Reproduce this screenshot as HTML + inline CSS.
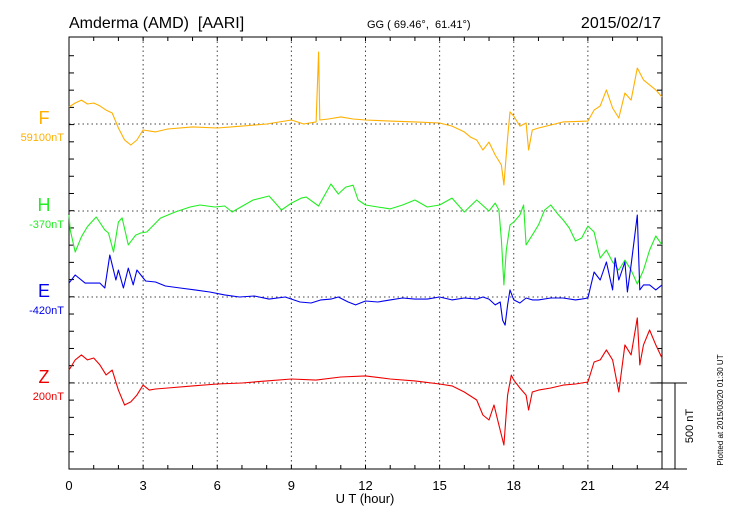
<!DOCTYPE html>
<html><head><meta charset="utf-8"><style>
html,body{margin:0;padding:0;background:#fff;}
svg{display:block;font-family:"Liberation Sans",sans-serif;}
text{white-space:pre;}
</style></head><body>
<svg id="chart" width="730" height="520" viewBox="0 0 730 520" xml:space="preserve">
<g id="axes"></g>
<g id="series"></g>
<text x="69" y="28" font-size="16">Amderma (AMD)  [AARI]</text>
<text x="367" y="28" font-size="11">GG ( 69.46°,  61.41°)</text>
<text x="661" y="28" font-size="16" text-anchor="end">2015/02/17</text>
<text x="365" y="503" font-size="13" text-anchor="middle">U T (hour)</text>
<text transform="translate(693,426) rotate(-90)" font-size="11" text-anchor="middle">500 nT</text>
<text transform="translate(723,410) rotate(-90)" font-size="8" text-anchor="middle">Plotted at 2015/03/20 01:30 UT</text>
</svg>
<script>
const xTicks=[0,3,6,9,12,15,18,21,24];
const seriesNames=["F","H","E","Z"];
const baseLabels=["59100nT","-370nT","-420nT","200nT"];
const fHours=[0,0.25,0.5,0.75,1,1.25,1.5,1.75,2,2.25,2.5,2.75,3,3.5,4,5,6,7,8,9,9.5,10,10.1,10.15,10.5,11,11.5,12,13,14,15,15.5,16,16.25,16.5,16.75,17,17.25,17.5,17.6,17.75,17.85,18,18.25,18.5,18.6,18.75,19,19.5,20,21,21.25,21.5,21.75,22,22.25,22.5,22.75,23,23.25,23.5,23.75,24];
const fValues=[99,122,139,116,122,105,81,64,-23,-93,-122,-93,-35,-46,-29,-17,-23,-12,0,23,0,12,418,23,29,41,29,23,17,12,6,-12,-46,-76,-93,-151,-105,-180,-238,-354,-81,70,46,-12,6,-151,-35,-23,-6,12,17,81,105,198,93,35,180,139,325,256,227,198,157];
const hHours=[0,0.05,0.25,0.5,0.75,1.1,1.45,1.6,1.8,2,2.15,2.4,2.7,2.9,3.15,3.7,4.3,4.9,5.3,5.9,6.3,6.6,7.45,8.1,8.6,9,9.4,9.6,10.1,10.6,10.9,11.2,11.5,11.7,12,12.5,13,13.5,14,14.5,15,15.5,16,16.5,17,17.25,17.4,17.5,17.6,17.7,17.85,18,18.25,18.4,18.5,18.75,19,19.25,19.5,19.75,20,20.25,20.5,20.75,21,21.25,21.5,21.75,22,22.25,22.5,22.75,23,23.25,23.5,23.75,24];
const hValues=[-23,-110,-238,-150,-90,-35,-110,-128,-238,-64,-40,-197,-140,-128,-122,-41,-6,23,35,23,29,-6,64,87,6,46,75,81,29,157,99,139,150,64,35,23,12,35,64,23,35,75,-6,64,0,46,6,-168,-430,-227,-81,-64,-23,35,-197,-140,-81,6,35,-12,-52,-99,-174,-157,-87,-122,-273,-227,-296,-343,-285,-343,-424,-343,-227,-145,-197];
const eHours=[0,0.25,0.65,1.25,1.45,1.65,1.9,2,2.2,2.4,2.6,2.75,3.1,3.5,3.9,4.5,5.1,5.7,6.3,6.9,7.5,8.1,8.75,9.35,9.8,10.2,10.6,10.9,11.3,11.6,12,12.5,13,13.5,14,14.5,15,15.5,16,16.5,16.75,17,17.25,17.45,17.55,17.65,17.75,17.85,18,18.25,18.5,18.75,19,19.5,20,20.5,20.75,21,21.25,21.5,21.75,22,22.1,22.25,22.5,22.6,22.75,23,23.1,23.25,23.5,23.75,24];
const eValues=[81,128,81,81,52,244,99,157,52,168,70,157,93,87,64,52,41,29,12,0,6,-12,0,-29,-35,-17,-12,0,-29,-46,-23,-29,-17,-6,-12,-12,0,-17,-6,-12,0,-12,-46,-29,-134,-163,-46,41,-17,-35,-6,-17,-17,-6,-6,-17,-12,-6,145,99,203,41,227,99,203,29,186,476,41,70,70,41,70];
const zHours=[0,0.25,0.5,0.75,1,1.25,1.5,1.75,2,2.25,2.5,2.75,3,3.25,3.5,4,5,6,7,8,9,10,11,12,13,14,15,15.5,16,16.5,16.75,17,17.2,17.4,17.6,17.75,17.9,18,18.25,18.5,18.6,18.75,19,19.5,20,20.5,21,21.25,21.5,21.75,22,22.25,22.5,22.75,23,23.1,23.25,23.5,23.75,24];
const zValues=[75,134,163,134,145,105,47,75,-41,-128,-110,-70,-12,-41,-35,-29,-17,-6,0,12,23,17,35,41,23,12,-6,-17,-52,-99,-186,-215,-128,-244,-360,-70,46,17,-29,-70,-157,-52,-41,-29,-12,-6,6,122,134,192,134,-52,221,163,378,105,221,308,221,145];

const NS="http://www.w3.org/2000/svg";
const L=69,R=662,T=37,B=469;
const PXNT=0.1722;
const bases=[124,211,297,383];
const colors=["#ffb000","#22ee22","#0000ee","#ee0000"];
const X=h=>L+(R-L)*h/24;
const Y=(i,v)=>bases[i]-v*PXNT;
const axes=document.getElementById('axes');
const ser=document.getElementById('series');
function mk(tag,attrs,parent){const e=document.createElementNS(NS,tag);for(const k in attrs)e.setAttribute(k,attrs[k]);parent.appendChild(e);return e;}

for(const h of xTicks){ if(h===0||h===24)continue;
  const g=mk('line',{x1:X(h),x2:X(h),y1:T,y2:B,stroke:'#444','stroke-width':1,'stroke-dasharray':'1.5,3'},axes);
  
  
}
bases.forEach((b,i)=>{
  const g=mk('line',{x1:L,x2:R,y1:b,y2:b,stroke:'#444','stroke-width':1,'stroke-dasharray':'1.5,3'},axes);
  
  
});
const fr=mk('rect',{x:L,y:T,width:R-L,height:B-T,fill:'none',stroke:'#000','stroke-width':1},axes);


for(let h=1;h<24;h++){
  const t1=mk('line',{x1:X(h),x2:X(h),y1:T,y2:T+4,stroke:'#000'},axes);
  
  
  const t2=mk('line',{x1:X(h),x2:X(h),y1:B,y2:B-4,stroke:'#000'},axes);
  
  
}
for(let y=B;y>T+2;y-=100*PXNT){
  const a=mk('line',{x1:L,x2:L+5,y1:y,y2:y,stroke:'#000'},axes);
  
  
  const b=mk('line',{x1:R,x2:R-5,y1:y,y2:y,stroke:'#000'},axes);
  
  
}
for(const h of xTicks){
  const t=mk('text',{x:X(h),y:490,'font-size':13,'text-anchor':'middle'},axes);
  t.textContent=h;
  
  
}
const sb1=mk('line',{x1:651,x2:687,y1:383,y2:383,stroke:'#000'},axes);


const sb2=mk('line',{x1:675,x2:675,y1:383,y2:469,stroke:'#000'},axes);


const sb3=mk('line',{x1:R,x2:687,y1:469,y2:469,stroke:'#000'},axes);


const hrs=[fHours,hHours,eHours,zHours], vals=[fValues,hValues,eValues,zValues];
seriesNames.forEach((n,i)=>{
  const d=hrs[i].map((h,j)=>(j?'L':'M')+X(h).toFixed(1)+','+Y(i,vals[i][j]).toFixed(1)).join('');
  const p=mk('path',{d:d,fill:'none',stroke:colors[i],'stroke-width':1.1,'stroke-linejoin':'round'},ser);
  
  
  const t=mk('text',{x:44,y:bases[i],'font-size':18,'text-anchor':'middle',fill:colors[i]},axes);
  t.textContent=n;
  
  
  const t2=mk('text',{x:64,y:bases[i]+17,'font-size':11,'text-anchor':'end',fill:colors[i]},axes);
  t2.textContent=baseLabels[i];
  
  
});
</script>
</body></html>
